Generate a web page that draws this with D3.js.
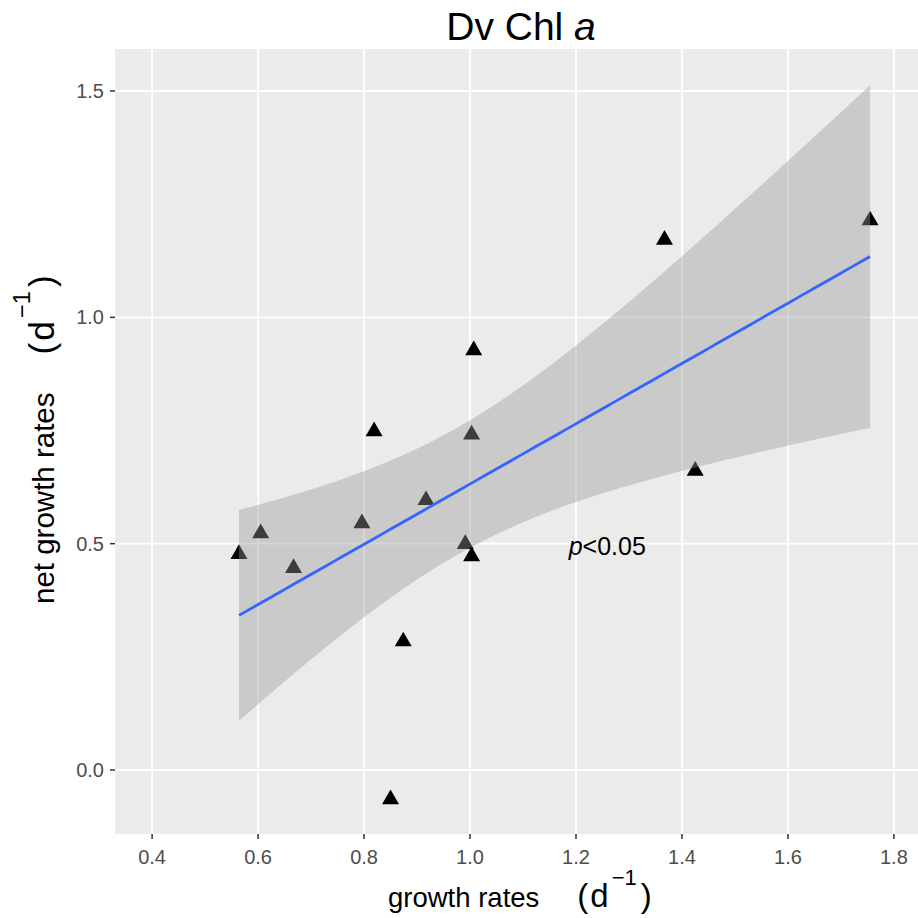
<!DOCTYPE html>
<html><head><meta charset="utf-8">
<script src="https://cdn.jsdelivr.net/npm/d3@7"></script>
<style>
body{margin:0;background:#fff;}
svg text{font-family:"Liberation Sans",Arial,sans-serif;}
</style>
</head><body><svg id="chart" width="918" height="918"></svg>
<script>
// ---- data ----
const growthRates    = [0.564,0.605,0.667,0.796,0.819,0.917,0.991,1.003,1.003,0.874,0.850,1.007,1.425,1.367,1.755];
const netGrowthRates = [0.477,0.523,0.446,0.545,0.748,0.596,0.499,0.472,0.741,0.284,-0.065,0.927,0.661,1.171,1.214];
const xTicks = [0.4,0.6,0.8,1.0,1.2,1.4,1.6,1.8];
const xTickLabels = ["0.4","0.6","0.8","1.0","1.2","1.4","1.6","1.8"];
const yTicks = [0.0,0.5,1.0,1.5];
const yTickLabels = ["0.0","0.5","1.0","1.5"];
const xLimits = [0.33, 1.87];
const yLimits = [-0.1414, 1.5928];
const annotationPos = [1.259, 0.493];
const annotationText = ["p", "<0.05"];
const titleParts = ["Dv Chl ", "a"];
const xTitleParts = ["growth rates", "(", "d", "\u22121", ")"];
const yTitleParts = ["net growth rates", "(", "d", "\u22121", ")"];
const tCrit = 2.1604; // qt(0.975, n-2) for n = 15

const svg = d3.select("#chart");
const W = 918, H = 918;
const panel = {left:115, right:931, top:49, bottom:834};

const x = d3.scaleLinear().domain(xLimits).range([panel.left, panel.right]);
const y = d3.scaleLinear().domain(yLimits).range([panel.bottom, panel.top]);

svg.append("rect").attr("width",W).attr("height",H).attr("fill","#fff");
svg.append("rect").attr("x",panel.left).attr("y",panel.top)
  .attr("width",panel.right-panel.left).attr("height",panel.bottom-panel.top)
  .attr("fill","#EBEBEB");

// grid
const g = svg.append("g");
g.selectAll(".vg").data(xTicks).enter().append("line")
  .attr("x1",d=>x(d)).attr("x2",d=>x(d)).attr("y1",panel.top).attr("y2",panel.bottom)
  .attr("stroke","#fff").attr("stroke-width",1.8);
g.selectAll(".hg").data(yTicks).enter().append("line")
  .attr("y1",d=>y(d)).attr("y2",d=>y(d)).attr("x1",panel.left).attr("x2",panel.right)
  .attr("stroke","#fff").attr("stroke-width",1.8);

// points
const pts = growthRates.map((v,i)=>({x:v,y:netGrowthRates[i]}));
svg.append("g").selectAll("path").data(pts).enter().append("path")
  .attr("d", d3.symbol().type(d3.symbolTriangle).size(125))
  .attr("transform", d=>`translate(${x(d.x)},${y(d.y)})`)
  .attr("fill","#000");

// linear fit with 95% CI (as geom_smooth(method="lm"))
const n = pts.length;
const mx = d3.mean(growthRates), my = d3.mean(netGrowthRates);
let sxx=0, sxy=0;
pts.forEach(p=>{sxx+=(p.x-mx)**2; sxy+=(p.x-mx)*(p.y-my);});
const b = sxy/sxx, a = my - b*mx;
let sse=0; pts.forEach(p=>{sse += (p.y-(a+b*p.x))**2;});
const s = Math.sqrt(sse/(n-2));
const [xmin,xmax] = d3.extent(growthRates);
const fit = d3.range(80).map(i=>{
  const xv = xmin + (xmax-xmin)*i/79;
  const yv = a + b*xv;
  const se = s*Math.sqrt(1/n + (xv-mx)**2/sxx);
  return {x:xv, y:yv, lo:yv-tCrit*se, hi:yv+tCrit*se};
});
svg.append("path").datum(fit)
  .attr("d", d3.area().x(d=>x(d.x)).y0(d=>y(d.lo)).y1(d=>y(d.hi)))
  .attr("fill","#999999").attr("fill-opacity",0.4);
svg.append("path").datum(fit)
  .attr("d", d3.line().x(d=>x(d.x)).y(d=>y(d.y)))
  .attr("fill","none").attr("stroke","#3366FF").attr("stroke-width",2.8);

// annotation
const ann = svg.append("text").attr("x",x(annotationPos[0])).attr("y",y(annotationPos[1])+8.5)
  .attr("text-anchor","middle").attr("font-size",25).attr("fill","#000");
ann.append("tspan").attr("font-style","italic").text(annotationText[0]);
ann.append("tspan").text(annotationText[1]);

// axes
const xAxis = svg.append("g");
xAxis.selectAll("line").data(xTicks).enter().append("line")
  .attr("x1",d=>x(d)).attr("x2",d=>x(d)).attr("y1",panel.bottom).attr("y2",panel.bottom+5)
  .attr("stroke","#333").attr("stroke-width",1.5);
xAxis.selectAll("text").data(xTicks).enter().append("text")
  .attr("x",d=>x(d)).attr("y",panel.bottom+30).attr("text-anchor","middle")
  .attr("font-size",20).attr("fill","#4D4D4D").text((d,i)=>xTickLabels[i]);

const yAxis = svg.append("g");
yAxis.selectAll("line").data(yTicks).enter().append("line")
  .attr("y1",d=>y(d)).attr("y2",d=>y(d)).attr("x1",panel.left-5).attr("x2",panel.left)
  .attr("stroke","#333").attr("stroke-width",1.5);
yAxis.selectAll("text").data(yTicks).enter().append("text")
  .attr("x",panel.left-11).attr("y",d=>y(d)+7).attr("text-anchor","end")
  .attr("font-size",20).attr("fill","#4D4D4D").text((d,i)=>yTickLabels[i]);

// titles
const cx = (panel.left+panel.right)/2;
const t = svg.append("text").attr("x",cx-2).attr("y",40).attr("text-anchor","middle")
  .attr("font-size",39).attr("fill","#000").style("white-space","pre");
t.append("tspan").text(titleParts[0]);
t.append("tspan").attr("font-style","italic").text(titleParts[1]);

function axisTitle(sel, parts, base){
  const big = base*1.2, sup = base*0.8, raise = base*0.8;
  sel.append("tspan").attr("font-size",base).text(parts[0]);
  sel.append("tspan").attr("font-size",big).attr("dx",38).text(parts[1]);
  sel.append("tspan").attr("font-size",big).attr("dx",2).text(parts[2]);
  sel.append("tspan").attr("font-size",sup).attr("dx",3).attr("dy",-raise).text(parts[3]);
  sel.append("tspan").attr("font-size",big).attr("dx",4).attr("dy",raise).text(parts[4]);
}
const xt = svg.append("text").attr("x",388).attr("y",907).attr("text-anchor","start").attr("fill","#000");
axisTitle(xt, xTitleParts, 27.5);
const yt = svg.append("text").attr("transform",`translate(54,604) rotate(-90)`)
  .attr("text-anchor","start").attr("fill","#000");
axisTitle(yt, yTitleParts, 29.5);
</script>
</body></html>
